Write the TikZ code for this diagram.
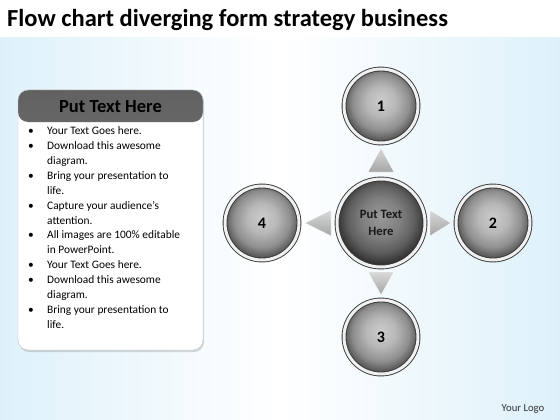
\documentclass[tikz,border=0pt]{standalone}
\usepackage{fontspec}
\setmainfont{Carlito}
\usetikzlibrary{calc,shadows}
\definecolor{bgblue}{RGB}{222,241,250}
\definecolor{rimgray}{RGB}{55,55,55}
\pgfdeclareradialshading{glass}{\pgfpoint{0bp}{4bp}}{color(0bp)=(black!20); color(10bp)=(black!28);
  color(19bp)=(black!44); color(25bp)=(black!66); color(50bp)=(black!66)}
\pgfdeclareradialshading{glasshub}{\pgfpoint{0bp}{4bp}}{color(0bp)=(black!40); color(11bp)=(black!50);
  color(19bp)=(black!63); color(25bp)=(black!80); color(50bp)=(black!80)}
\tikzset{
  bubble/.style={circle, minimum size=#1, shade, shading=glass,
    draw=rimgray, line width=0.9pt, double=gray!12, double distance=3pt,
    drop shadow={opacity=0.25, shadow xshift=1pt, shadow yshift=-2pt},
    font=\bfseries\fontsize{16}{18}\selectfont},
  hub/.style={bubble=#1, shading=glasshub,
    font=\bfseries\fontsize{12.7}{17}\selectfont, align=center, text=black!90},
  tri/.style={top color=gray!30, bottom color=gray!70, draw=white, line width=0.4pt},
  panel/.style={rectangle, rounded corners=10pt, minimum width=185pt, minimum height=260pt,
    fill=white, draw=gray!45, drop shadow={opacity=0.3, shadow xshift=1pt, shadow yshift=-2pt},
    path picture={\shade[top color=black!62, bottom color=black!45]
      (path picture bounding box.north west) rectangle ([yshift=-32pt]path picture bounding box.north east);}}
}

\begin{document}
\begin{tikzpicture}[x=1pt,y=-1pt]
\useasboundingbox (0,0) rectangle (560,420);
% Background
\fill[white] (0,0) rectangle (560,38);
\shade[left color=bgblue, right color=bgblue, middle color=white] (0,38) rectangle (560,420);

% Title
\node[anchor=base west, inner sep=0, font=\bfseries\fontsize{24.5}{28}\selectfont] (title) at (7,27)
  {Flow chart diverging form strategy business};

% Text panel
\node[panel] (panel) at (110.5,220) {};
\node[font=\bfseries\fontsize{18.5}{20}\selectfont] (head) at (110.5,107) {Put Text Here};
\node[anchor=base west, inner sep=0, font=\fontsize{11.4}{15}\selectfont] (list) at (28,134)
  {\begin{tabular}[t]{@{}p{19pt}@{}l@{}}
   \textbullet & Your Text Goes here.\\
   \textbullet & Download this awesome\\
               & diagram.\\
   \textbullet & Bring your presentation to\\
               & life.\\
   \textbullet & Capture your audience’s\\
               & attention.\\
   \textbullet & All images are 100\% editable\\
               & in PowerPoint.\\
   \textbullet & Your Text Goes here.\\
   \textbullet & Download this awesome\\
               & diagram.\\
   \textbullet & Bring your presentation to\\
               & life.
  \end{tabular}};

% Hub and branches
\node[hub=88pt] (hub) at (381,223) {Put Text\\Here};
\node[bubble=74pt] (n1) at (381,106) {1};
\node[bubble=74pt] (n2) at (493,223) {2};
\node[bubble=74pt] (n3) at (381,337) {3};
\node[bubble=74pt] (n4) at (262,223) {4};

% Arrow triangles
\coordinate (b1) at ($(hub)!51pt!(n1)$); \coordinate (t1) at ($(n1)!42pt!(hub)$);
\shade[tri] ($(b1)!13pt!90:(t1)$) -- ($(b1)!13pt!-90:(t1)$) -- (t1) -- cycle;
\coordinate (b2) at ($(hub)!49pt!(n2)$); \coordinate (t2) at ($(n2)!42pt!(hub)$);
\shade[tri] ($(b2)!13pt!90:(t2)$) -- ($(b2)!13pt!-90:(t2)$) -- (t2) -- cycle;
\coordinate (b3) at ($(hub)!49pt!(n3)$); \coordinate (t3) at ($(n3)!42pt!(hub)$);
\shade[tri] ($(b3)!13pt!90:(t3)$) -- ($(b3)!13pt!-90:(t3)$) -- (t3) -- cycle;
\coordinate (b4) at ($(hub)!50pt!(n4)$); \coordinate (t4) at ($(n4)!43pt!(hub)$);
\shade[tri] ($(b4)!13pt!90:(t4)$) -- ($(b4)!13pt!-90:(t4)$) -- (t4) -- cycle;

% Logo
\node[anchor=base, font=\fontsize{10.7}{12}\selectfont, text=black!80] (logo) at (523,411) {Your Logo};
\end{tikzpicture}
\end{document}
